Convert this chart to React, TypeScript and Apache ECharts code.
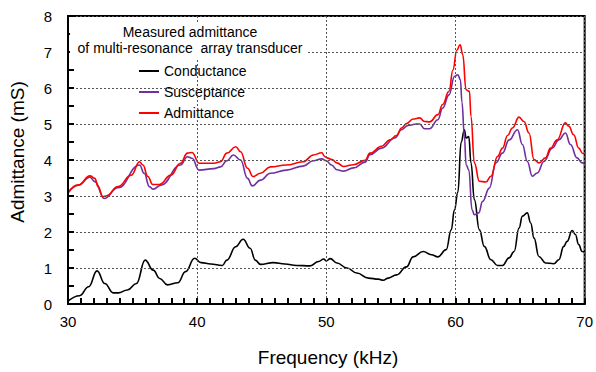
import React, { useEffect, useRef } from "react";
import * as echarts from "echarts";

// ---- data ----
const condFreq = [30.0, 30.9, 31.6, 32.25, 32.85, 33.5, 33.9, 34.6, 35.3, 35.97, 36.6, 37.1, 37.7, 38.5, 39.1, 39.8, 40.3, 41.05, 41.95, 42.3, 42.98, 43.56, 44.1, 44.5, 44.9, 45.9, 46.8, 47.7, 48.75, 49.4, 49.8, 50.0, 50.3, 50.82, 51.6, 52.36, 53.26, 54.03, 54.4, 54.8, 55.44, 56.2, 56.72, 57.5, 58.13, 58.64, 59.28, 59.67, 59.92, 60.18, 60.44, 60.69, 60.82, 61.03, 61.2, 61.46, 61.85, 62.23, 62.74, 63.26, 63.64, 64.15, 64.54, 64.92, 65.18, 65.56, 65.82, 66.08, 66.46, 66.97, 67.62, 68.0, 68.38, 68.64, 69.03, 69.28, 69.54, 69.8, 70.0];
const condVals = [0.08, 0.23, 0.48, 0.92, 0.57, 0.31, 0.31, 0.39, 0.57, 1.22, 0.94, 0.71, 0.53, 0.59, 0.9, 1.27, 1.15, 1.11, 1.07, 1.22, 1.59, 1.8, 1.55, 1.22, 1.1, 1.15, 1.11, 1.07, 1.06, 1.18, 1.25, 1.2, 1.26, 1.14, 1.0, 0.86, 0.72, 0.69, 0.66, 0.72, 0.81, 1.03, 1.31, 1.46, 1.37, 1.31, 1.51, 2.06, 2.62, 3.1, 4.5, 4.84, 4.61, 4.65, 3.92, 2.9, 2.06, 1.6, 1.23, 1.07, 1.07, 1.28, 1.46, 2.11, 2.44, 2.53, 2.25, 1.83, 1.32, 1.14, 1.12, 1.23, 1.6, 1.74, 2.04, 1.93, 1.65, 1.46, 1.44];

const suscFreq = [30.0, 30.8, 31.7, 32.08, 32.8, 33.87, 35.54, 35.9, 36.3, 36.6, 37.2, 38.7, 39.25, 39.6, 40.15, 41.3, 41.8, 42.3, 42.8, 43.36, 43.9, 44.27, 44.9, 45.67, 46.9, 48.2, 49.0, 49.64, 50.0, 50.4, 50.82, 51.33, 52.1, 53.0, 53.38, 54.28, 55.3, 55.82, 56.33, 56.97, 57.23, 57.6, 58.0, 58.64, 59.0, 59.5, 59.92, 60.18, 60.38, 60.5, 60.69, 60.82, 61.03, 61.28, 61.46, 61.8, 62.1, 62.62, 63.13, 63.64, 64.15, 64.8, 65.18, 65.56, 65.95, 66.33, 66.85, 67.49, 68.0, 68.51, 68.9, 69.41, 69.8, 70.0];
const suscVals = [3.09, 3.3, 3.52, 3.4, 2.93, 3.23, 3.86, 3.63, 3.26, 3.19, 3.3, 3.86, 4.09, 4.05, 3.72, 3.76, 3.81, 3.98, 4.14, 4.0, 3.49, 3.28, 3.44, 3.63, 3.72, 3.83, 3.98, 4.03, 3.98, 3.86, 3.73, 3.69, 3.78, 3.94, 4.15, 4.33, 4.61, 4.84, 4.96, 5.0, 5.0, 4.87, 4.87, 5.12, 5.44, 5.81, 6.32, 6.37, 6.23, 5.6, 4.66, 3.87, 3.73, 2.62, 2.48, 2.53, 2.85, 3.22, 3.92, 4.19, 4.56, 4.84, 4.43, 3.96, 3.55, 3.64, 3.96, 4.33, 4.56, 4.75, 4.43, 4.06, 3.92, 3.9];

const admFreq = [30.0, 30.8, 31.7, 32.08, 32.33, 32.7, 32.96, 33.87, 34.9, 35.54, 35.8, 36.18, 36.56, 37.08, 37.97, 38.7, 39.25, 39.6, 40.15, 41.3, 41.8, 42.3, 42.98, 43.36, 43.9, 44.33, 44.9, 45.67, 46.9, 48.2, 49.0, 49.64, 49.9, 50.05, 50.44, 50.82, 51.33, 52.1, 53.0, 53.38, 54.28, 54.92, 55.44, 55.82, 56.2, 56.72, 57.23, 57.6, 58.0, 58.64, 59.0, 59.5, 59.8, 60.1, 60.36, 60.56, 60.82, 61.08, 61.2, 61.46, 61.85, 62.36, 62.74, 63.26, 63.64, 64.03, 64.41, 64.92, 65.3, 65.69, 66.08, 66.46, 66.97, 67.36, 67.87, 68.51, 68.77, 69.15, 69.54, 69.85, 70.0];
const admVals = [3.09, 3.31, 3.56, 3.49, 3.26, 2.98, 3.0, 3.26, 3.58, 3.95, 3.86, 3.54, 3.32, 3.32, 3.58, 3.91, 4.19, 4.21, 3.91, 3.91, 3.95, 4.19, 4.37, 4.23, 3.77, 3.54, 3.63, 3.81, 3.86, 3.95, 4.14, 4.2, 4.09, 4.06, 4.01, 3.92, 3.82, 3.87, 3.99, 4.19, 4.38, 4.56, 4.68, 4.89, 5.01, 5.14, 5.17, 5.07, 5.06, 5.26, 5.54, 5.91, 6.5, 7.05, 7.2, 6.93, 5.95, 5.91, 5.21, 3.92, 3.41, 3.39, 3.55, 4.1, 4.33, 4.68, 4.89, 5.19, 5.07, 4.75, 4.01, 3.92, 4.06, 4.33, 4.56, 5.03, 4.94, 4.7, 4.33, 4.18, 4.18];

const seriesNames = ["Conductance", "Susceptance", "Admittance"];
const seriesColors = ["#000000", "#7030A0", "#FF0000"];
const titleLines = ["Measured admittance", "of multi-resonance  array transducer"];

const pairs = (xs: number[], ys: number[]) => xs.map((x, i) => [x, ys[i]]);

export default function App() {
  const ref = useRef<HTMLDivElement>(null);
  useEffect(() => {
    if (!ref.current) return;
    const chart = echarts.init(ref.current, undefined, { renderer: "svg" });
    const font = "'Liberation Sans', Arial, sans-serif";
    const data = [pairs(condFreq, condVals), pairs(suscFreq, suscVals), pairs(admFreq, admVals)];
    const gridLine = { show: true, lineStyle: { color: "#555", type: [2, 2] as any, width: 1 } };
    const tickLine = { color: "#000", width: 2 };
    chart.setOption({
      animation: false,
      backgroundColor: "#fff",
      textStyle: { fontFamily: font },
      grid: { left: 68, right: 7, top: 16, bottom: 68, show: true, borderColor: "#000", borderWidth: 2, backgroundColor: "transparent" },
      xAxis: {
        type: "value", min: 30, max: 70, interval: 10, z: 20,
        axisLine: { show: true, onZero: false, lineStyle: { color: "#000", width: 2 } },
        axisTick: { show: true, inside: true, length: 6, lineStyle: tickLine },
        minorTick: { show: true, splitNumber: 10, length: 6, lineStyle: tickLine },
        axisLabel: { color: "#000", fontSize: 15, margin: 10, fontFamily: font },
        splitLine: gridLine,
      },
      yAxis: {
        type: "value", min: 0, max: 8, interval: 1, z: 20,
        axisLine: { show: true, onZero: false, lineStyle: { color: "#000", width: 2 } },
        axisTick: { show: true, inside: true, length: 6, lineStyle: tickLine },
        minorTick: { show: true, splitNumber: 2, length: 6, lineStyle: tickLine },
        axisLabel: { color: "#000", fontSize: 15, margin: 16, fontFamily: font },
        splitLine: gridLine,
      },
      legend: {
        orient: "vertical", left: 135, top: 61,
        data: seriesNames,
        icon: "rect", itemWidth: 20, itemHeight: 2, itemGap: 5,
        backgroundColor: "#fff", padding: [2, 4, 2, 4],
        textStyle: { color: "#000", fontSize: 14, fontFamily: font, lineHeight: 16 },
      },
      graphic: [
        { type: "rect", z: 100, shape: { x: 70, y: 22, width: 236, height: 36 }, style: { fill: "#fff" } },
        { type: "text", z: 101, x: 190, y: 32, style: { text: titleLines[0], fill: "#000", font: `14px ${font}`, textAlign: "center", textVerticalAlign: "middle" } },
        { type: "text", z: 101, x: 190, y: 48, style: { text: titleLines[1], fill: "#000", font: `14px ${font}`, textAlign: "center", textVerticalAlign: "middle" } },
        { type: "text", z: 101, x: 328, y: 357, style: { text: "Frequency (kHz)", fill: "#000", font: `19px ${font}`, textAlign: "center", textVerticalAlign: "middle" } },
        { type: "text", z: 101, x: 17, y: 152, rotation: Math.PI / 2, style: { text: "Admittance (mS)", fill: "#000", font: `19px ${font}`, textAlign: "center", textVerticalAlign: "middle" } },
      ],
      series: seriesNames.map((name, i) => ({
        name, type: "line", data: data[i], showSymbol: false, symbol: "none",
        smooth: 0.45, smoothMonotone: "x",
        lineStyle: { color: seriesColors[i], width: 1.6 },
        itemStyle: { color: seriesColors[i] },
        z: 3 + i,
      })),
    });
    return () => chart.dispose();
  }, []);
  return <div ref={ref} style={{ position: "fixed", left: 0, top: 0, width: 596, height: 372 }} />;
}
